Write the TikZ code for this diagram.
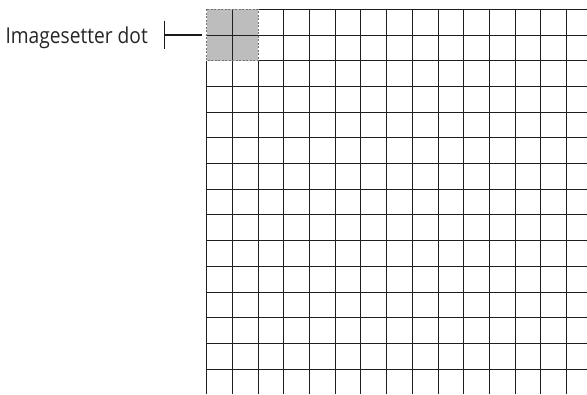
\documentclass[tikz,border=0pt]{standalone}
\usepackage{fontspec}
\setmainfont{Open Sans}
\begin{document}
\begin{tikzpicture}[x=1bp,y=-1bp,
  gridline/.style={line width=0.95bp, draw=black!88},
  dotfill/.style={fill=black!26},
  dotedge/.style={line width=0.8bp, draw=black!55, dash pattern=on 2bp off 1.5bp},
  leader/.style={line width=1.2bp, draw=black!90},
  labeltext/.style={anchor=base east, inner sep=0pt, text=black!85, font=\fontsize{22}{26}\selectfont}]
\useasboundingbox (0,0) rectangle (587,394);
% shaded imagesetter dot (2x2 cells)
\fill[dotfill] (206.7,9.3) rectangle (258.1,60.7);
% vertical grid lines
\foreach \i in {0,...,14} {
  \pgfmathsetmacro{\xx}{206.7+25.7*\i}
  \ifnum\i=0 \def\ys{60.7}\else\ifnum\i=2 \def\ys{60.7}\else\def\ys{9.3}\fi\fi
  \draw[gridline] (\xx,\ys) -- (\xx,394);
}
% horizontal grid lines
\foreach \j in {0,...,14} {
  \pgfmathsetmacro{\yy}{9.3+25.7*\j}
  \ifnum\j=0 \def\xs{258.1}\else\ifnum\j=2 \def\xs{258.1}\else\def\xs{206.7}\fi\fi
  \draw[gridline] (\xs,\yy) -- (587,\yy);
}
% dashed outline of the dot
\draw[dotedge] (206.7,9.3) rectangle (258.1,60.7);
% label and leader
\node[labeltext] (lbl) at (148,43.8) {\scalebox{0.875}[1]{Imagesetter dot}};
\coordinate (bt) at (164.2,20.7);
\coordinate (bb) at (164.2,49.3);
\coordinate (lt) at (164.2,35);
\coordinate (le) at (201.7,35);
\draw[leader] (bt) -- (bb);
\draw[leader] (lt) -- (le);
\end{tikzpicture}
\end{document}
